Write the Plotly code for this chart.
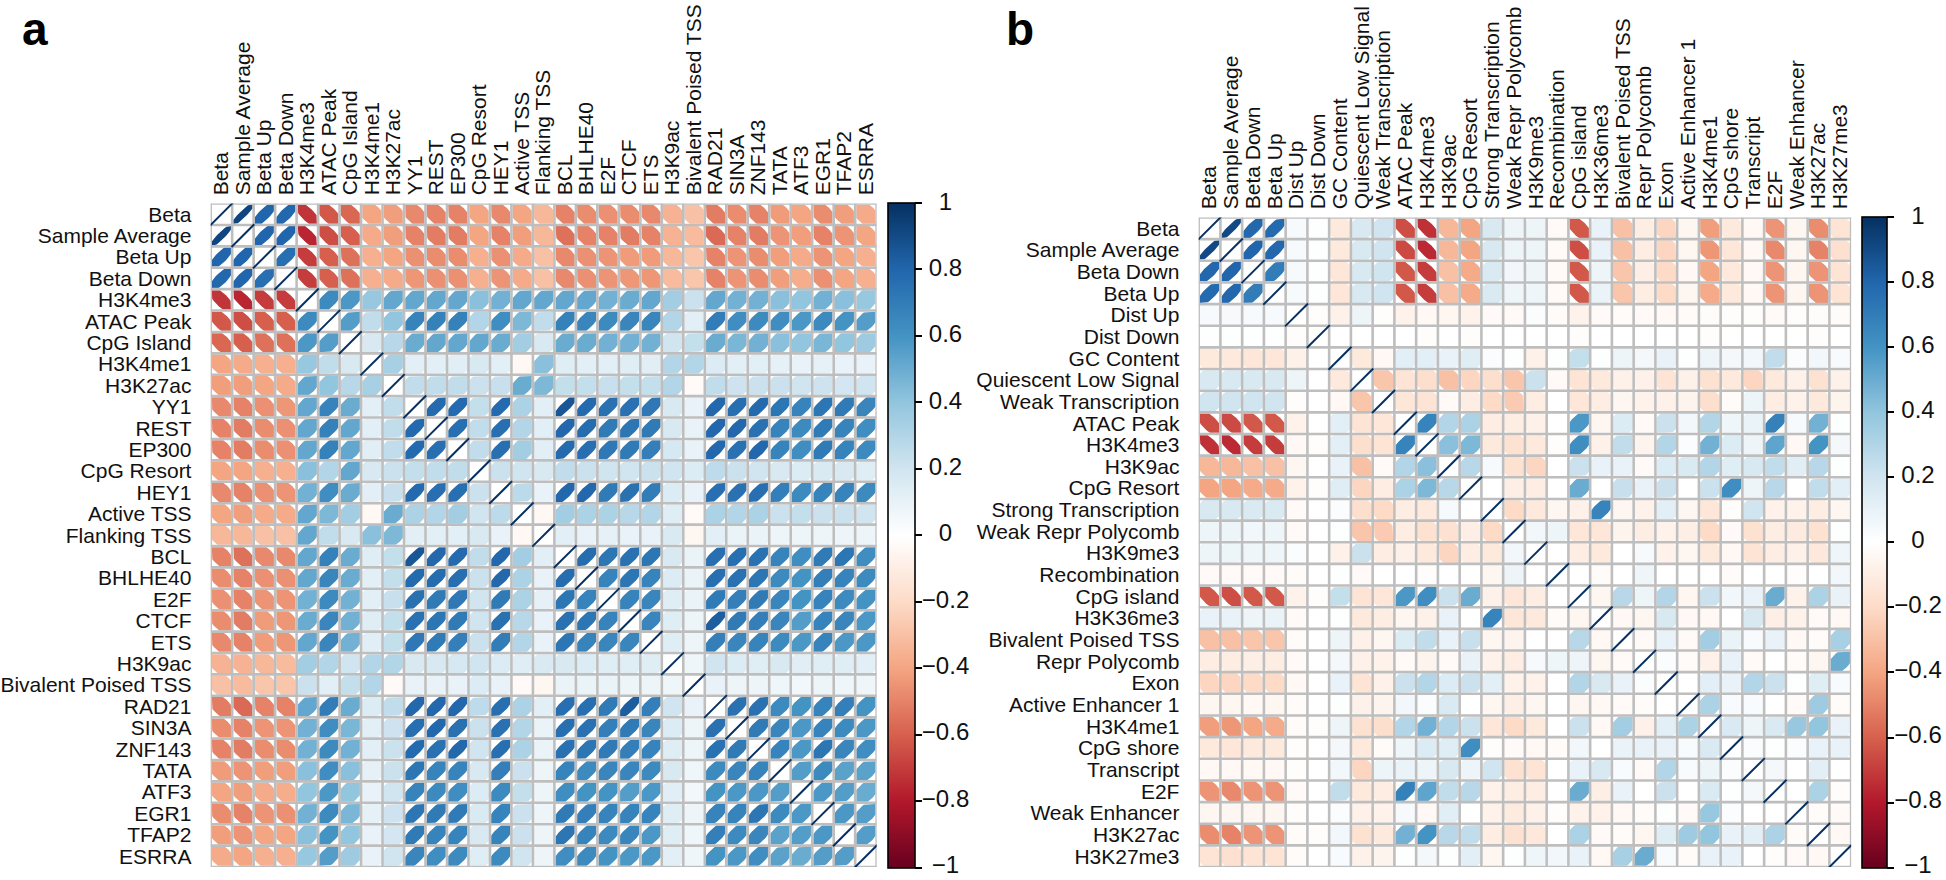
import numpy as np
import plotly.graph_objects as go

labels_a = ["Beta","Sample Average","Beta Up","Beta Down","H3K4me3","ATAC Peak","CpG Island","H3K4me1","H3K27ac","YY1","REST","EP300","CpG Resort","HEY1","Active TSS","Flanking TSS","BCL","BHLHE40","E2F","CTCF","ETS","H3K9ac","Bivalent Poised TSS","RAD21","SIN3A","ZNF143","TATA","ATF3","EGR1","TFAP2","ESRRA"]
labels_b = ["Beta","Sample Average","Beta Down","Beta Up","Dist Up","Dist Down","GC Content","Quiescent Low Signal","Weak Transcription","ATAC Peak","H3K4me3","H3K9ac","CpG Resort","Strong Transcription","Weak Repr Polycomb","H3K9me3","Recombination","CpG island","H3K36me3","Bivalent Poised TSS","Repr Polycomb","Exon","Active Enhancer 1","H3K4me1","CpG shore","Transcript","E2F","Weak Enhancer","H3K27ac","H3K27me3"]

# Panel a: values right of the diagonal, one list per row
a_beta = [.92,.80,.79,-.72,-.62,-.58,-.40,-.42,-.48,-.50,-.50,-.40,-.48,-.40,-.33,-.50,-.47,-.46,-.47,-.48,-.35,-.30,-.52,-.47,-.50,-.43,-.40,-.47,-.42,-.38]
a_sample = [.80,.80,-.76,-.65,-.60,-.38,-.42,-.50,-.52,-.52,-.40,-.50,-.42,-.33,-.55,-.50,-.50,-.52,-.50,-.35,-.32,-.57,-.50,-.52,-.45,-.42,-.50,-.45,-.40]
a_betaup = [.76,-.70,-.60,-.55,-.36,-.40,-.46,-.47,-.47,-.36,-.46,-.38,-.30,-.48,-.46,-.45,-.43,-.43,-.33,-.28,-.50,-.45,-.47,-.42,-.38,-.45,-.40,-.36]
a_betadown = [-.70,-.60,-.55,-.36,-.38,-.44,-.46,-.46,-.36,-.45,-.38,-.30,-.48,-.46,-.45,-.44,-.44,-.32,-.28,-.50,-.45,-.47,-.42,-.37,-.46,-.40,-.36]
a_h3k4me3 = [.64,.58,.38,.52,.52,.52,.52,.42,.48,.52,.52,.52,.52,.48,.50,.52,.35,.22,.52,.48,.48,.42,.40,.48,.42,.38]
a_atac = [.56,.25,.40,.67,.68,.68,.30,.62,.45,.25,.68,.66,.64,.66,.66,.30,.12,.70,.62,.64,.62,.58,.64,.60,.56]
a_cpgisland = [.17,.28,.50,.52,.52,.52,.50,.35,.17,.50,.50,.48,.48,.48,.20,.24,.50,.46,.48,.42,.40,.46,.40,.36]
a_h3k4me1 = [.33,.12,.12,.13,.17,.12,-.04,.42,.14,.12,.12,.14,.13,.30,.30,.15,.12,.12,.11,.10,.11,.10,.10]
a_h3k27ac = [.25,.25,.25,.22,.23,.50,.45,.24,.24,.23,.24,.24,.30,-.03,.25,.21,.22,.22,.20,.21,.19,.20]
a_yy1 = [.78,.78,.24,.78,.32,.12,.86,.78,.75,.75,.72,.17,.10,.79,.76,.78,.73,.67,.73,.71,.66]
a_rest = [.76,.25,.76,.30,.12,.79,.77,.71,.73,.71,.17,.10,.79,.79,.75,.67,.64,.71,.67,.62]
a_ep300 = [.25,.76,.35,.12,.78,.76,.72,.71,.69,.18,.10,.79,.75,.79,.67,.62,.71,.67,.64]
a_cpgresort = [.22,.20,.17,.25,.22,.20,.20,.22,.20,.15,.26,.22,.20,.17,.15,.16,.17,.14]
a_hey1 = [.27,.10,.79,.79,.71,.75,.70,.15,.10,.76,.75,.76,.69,.64,.67,.67,.64]
a_activetss = [-.04,.35,.32,.32,.28,.30,.14,-.03,.32,.30,.32,.22,.24,.22,.22,.20]
a_flanking = [.12,.10,.11,.10,.10,.16,-.05,.12,.09,.09,.08,.08,.08,.08,.08]
a_bcl = [.77,.73,.75,.73,.17,.09,.76,.76,.75,.67,.62,.71,.73,.62]
a_bhlhe40 = [.67,.73,.67,.15,.09,.76,.75,.73,.64,.60,.69,.67,.64]
a_e2f = [.67,.66,.14,.09,.71,.69,.71,.66,.60,.67,.64,.60]
a_ctcf = [.66,.14,.08,.83,.71,.69,.66,.56,.67,.66,.58]
a_ets = [.14,.08,.69,.66,.67,.64,.58,.67,.58,.58]
a_h3k9ac = [.07,.20,.15,.14,.17,.13,.14,.14,.12]
a_bivalent = [.10,.08,.08,.07,.06,.08,.07,.07]
a_rad21 = [.75,.75,.64,.60,.67,.69,.60]
a_sin3a = [.71,.66,.58,.67,.64,.58]
a_znf143 = [.67,.58,.73,.66,.62]
a_tata = [.56,.64,.54,.54]
a_atf3 = [.58,.56,.50]
a_egr1 = [.58,.56]
a_tfap2 = [.56]
rows_a = [a_beta,a_sample,a_betaup,a_betadown,a_h3k4me3,a_atac,a_cpgisland,a_h3k4me1,a_h3k27ac,a_yy1,a_rest,a_ep300,a_cpgresort,a_hey1,a_activetss,a_flanking,a_bcl,a_bhlhe40,a_e2f,a_ctcf,a_ets,a_h3k9ac,a_bivalent,a_rad21,a_sin3a,a_znf143,a_tata,a_atf3,a_egr1,a_tfap2]

# Panel b: values right of the diagonal, one list per row
b_beta = [.91,.79,.78,.04,.01,-.12,.17,.20,-.65,-.73,-.33,-.40,.17,.08,.08,-.03,-.62,.10,-.30,-.10,-.22,-.05,-.42,-.12,-.04,-.45,-.05,-.47,-.15]
b_sample = [.80,.79,.04,.01,-.12,.17,.20,-.66,-.75,-.33,-.40,.17,.08,.08,-.03,-.65,.10,-.30,-.10,-.22,-.05,-.44,-.14,-.04,-.48,-.05,-.50,-.17]
b_betadown = [.70,.04,.01,-.14,.17,.20,-.62,-.70,-.30,-.38,.16,.06,.07,-.03,-.62,.08,-.28,-.09,-.20,-.04,-.40,-.12,-.04,-.45,-.05,-.45,-.15]
b_betaup = [.04,.01,-.14,.17,.20,-.62,-.70,-.30,-.38,.16,.07,.07,-.03,-.62,.09,-.28,-.10,-.20,-.05,-.38,-.12,-.04,-.45,-.05,-.45,-.15]
b_distup = [-.01,-.08,.08,-.01,-.07,-.04,-.05,-.07,-.03,-.03,.02,-.02,-.07,-.03,-.02,-.03,-.04,-.02,-.02,-.01,-.01,-.03,-.01,-.02,-.02]
b_distdown = [.00,.00,.00,.00,-.01,.00,-.01,.00,.00,.00,.00,-.01,.00,.00,.00,.00,.00,-.01,.00,.00,.00,.00,-.01,.00]
b_gc = [-.12,-.04,.12,.12,.10,.14,.02,.01,-.08,.01,.24,.01,.08,.05,.10,.01,.08,.05,.06,.25,.02,.06,.03]
b_quiescent = [-.28,-.15,-.18,-.30,-.22,-.18,-.28,.22,-.03,-.15,-.12,-.08,-.08,-.15,-.08,-.16,-.12,-.22,-.12,-.08,-.16,-.08]
b_weaktrans = [-.14,-.15,-.03,-.10,-.20,-.26,-.10,.00,-.14,-.10,-.05,-.07,-.08,-.06,-.18,-.02,.08,-.10,-.07,-.12,-.06]
b_atac = [.67,.30,.32,-.10,-.10,-.08,.00,.58,-.05,.15,-.03,.22,.06,.30,.07,.09,.68,.04,.48,.01]
b_h3k4me3 = [.42,.45,-.12,-.16,-.12,-.01,.62,-.08,.25,-.06,.30,.02,.48,.15,.08,.53,-.04,.60,.05]
b_h3k9ac = [.28,.04,-.16,-.22,.00,.22,.10,.10,-.03,.15,.16,.30,.14,.17,.25,.13,.28,.01]
b_cpgresort = [.00,-.09,-.10,.00,.50,.00,.23,.10,.22,.00,.22,.62,.08,.28,.00,.25,.12]
b_strongtrans = [-.20,-.12,-.05,-.08,.67,-.05,-.07,.12,-.05,-.14,-.01,.20,-.07,-.07,-.10,-.05]
b_weakrepr = [.06,.08,-.14,-.14,-.06,-.10,-.07,-.09,-.20,-.03,-.16,-.10,-.11,-.16,.01]
b_h3k9me3 = [.00,-.10,-.12,.00,.04,-.07,-.05,-.12,-.04,-.15,-.10,-.08,-.13,.07]
b_recomb = [.00,-.02,.00,.07,.00,.00,.00,-.02,.00,.00,-.01,.00,.06]
b_cpgisland = [-.05,.28,.08,.30,-.05,.22,.06,.10,.50,-.07,.32,.10]
b_h3k36me3 = [-.04,-.05,.17,-.04,-.04,.00,.17,-.09,-.07,-.03,-.04]
b_bivalent = [-.03,.10,-.03,.35,.09,.03,.10,-.04,-.02,.33]
b_repr = [.02,-.02,-.08,.10,-.03,.00,-.02,-.05,.50]
b_exon = [.00,.12,.10,.30,.22,.01,.14,.03]
b_activeenh = [.32,.03,.03,.00,-.03,.36,-.02]
b_h3k4me1 = [.16,.08,.16,.38,.40,.10]
b_cpgshore = [.02,.01,.02,.10,.10]
b_transcript = [.05,.00,.12,.00]
b_e2f = [.00,.32,-.01]
b_weakenh = [-.02,-.03]
b_h3k27ac = [-.04]
rows_b = [b_beta,b_sample,b_betadown,b_betaup,b_distup,b_distdown,b_gc,b_quiescent,b_weaktrans,b_atac,b_h3k4me3,b_h3k9ac,b_cpgresort,b_strongtrans,b_weakrepr,b_h3k9me3,b_recomb,b_cpgisland,b_h3k36me3,b_bivalent,b_repr,b_exon,b_activeenh,b_h3k4me1,b_cpgshore,b_transcript,b_e2f,b_weakenh,b_h3k27ac]

cbar_ticks = [-1,-.8,-.6,-.4,-.2,0,.2,.4,.6,.8,1]
cbar_text = ["\u22121","\u22120.8","\u22120.6","\u22120.4","\u22120.2","0","0.2","0.4","0.6","0.8","1"]
palette = ["#67001F","#B2182B","#D6604D","#F4A582","#FDDBC7","#FFFFFF","#D1E5F0","#92C5DE","#4393C3","#2166AC","#053061"]

W, H = 1946, 880
FONT = "Liberation Sans"
GRID = "#BEBEBE"
ELL_R, CLIP, DIAG = 0.57, 0.445, 0.53
scale = [[i / 10, c] for i, c in enumerate(palette)]
rgb = np.array([[int(c[i:i + 2], 16) for i in (1, 3, 5)] for c in palette], float)


def colour(v):
    p = (v + 1) * 5
    k = min(int(p), 9)
    c = rgb[k] + (rgb[k + 1] - rgb[k]) * (p - k)
    return "rgb(%d,%d,%d)" % tuple(np.round(c))


def matrix(rows):
    n = len(rows) + 1
    m = np.eye(n)
    for i, r in enumerate(rows):
        assert len(r) == n - 1 - i, i
        m[i, i + 1:] = r
        m[i + 1:, i] = r
    return m


def clip_box(pts, h):
    for axis, sign in ((0, 1), (0, -1), (1, 1), (1, -1)):
        out = []
        for j in range(len(pts)):
            a, b = pts[j - 1], pts[j]
            ina, inb = sign * a[axis] <= h, sign * b[axis] <= h
            if ina != inb:
                t = (sign * h - a[axis]) / (b[axis] - a[axis])
                out.append((a[0] + (b[0] - a[0]) * t, a[1] + (b[1] - a[1]) * t))
            if inb:
                out.append(b)
        pts = out
    return pts


theta = np.linspace(0, 2 * np.pi, 40, endpoint=False)


def ellipse(r):
    d = np.arccos(r)
    ex = ELL_R * np.cos(theta + d / 2)
    ey = ELL_R * np.cos(theta - d / 2)
    return clip_box(list(zip(ex, ey)), CLIP)


fig = go.Figure()


def panel(idx, labels, rows, box, bar, text_box):
    xname = "x" + ("" if idx == 1 else str(idx))
    yname = "y" + ("" if idx == 1 else str(idx))
    left, right, top, bottom = box
    n = len(labels)
    m = matrix(rows)
    groups = {}
    for i in range(n):
        for j in range(n):
            if i != j:
                groups.setdefault(round(float(m[i, j]), 2), []).append((i, j))
    for v, cells in sorted(groups.items()):
        shape = ellipse(v)
        xs, ys = [], []
        for i, j in cells:
            xs += [j + 1 + p[0] for p in shape] + [j + 1 + shape[0][0], None]
            ys += [i + 1 - p[1] for p in shape] + [i + 1 - shape[0][1], None]
        fig.add_trace(go.Scatter(x=xs, y=ys, mode="lines", line=dict(width=0), fill="toself",
                                 fillcolor=colour(v), hoverinfo="skip", showlegend=False,
                                 xaxis=xname, yaxis=yname))
    gx, gy = [], []
    for k in range(n + 1):
        gx += [k + .5, k + .5, None, .5, n + .5, None]
        gy += [.5, n + .5, None, k + .5, k + .5, None]
    fig.add_trace(go.Scatter(x=gx, y=gy, mode="lines", line=dict(color=GRID, width=2.6),
                             hoverinfo="skip", showlegend=False, xaxis=xname, yaxis=yname))
    dx, dy = [], []
    for k in range(1, n + 1):
        dx += [k - DIAG, k + DIAG, None]
        dy += [k + DIAG, k - DIAG, None]
    fig.add_trace(go.Scatter(x=dx, y=dy, mode="lines", line=dict(color=palette[-1], width=2),
                             hoverinfo="skip", showlegend=False, xaxis=xname, yaxis=yname))
    # carries the colour bar and the hover values
    px, py, pz, pt = [], [], [], []
    for i in range(n):
        for j in range(n):
            px.append(j + 1); py.append(i + 1); pz.append(m[i, j])
            pt.append("%s / %s: %.2f" % (labels[i], labels[j], m[i, j]))
    fig.add_trace(go.Scatter(
        x=px, y=py, mode="markers", text=pt, hoverinfo="text", showlegend=False,
        xaxis=xname, yaxis=yname,
        marker=dict(size=14, opacity=0, color=pz, colorscale=scale, cmin=-1, cmax=1, showscale=True,
                    colorbar=dict(x=bar[0] / W, xanchor="left", xpad=0, ypad=0,
                                  y=1 - (top + bottom) / 2 / H, yanchor="middle",
                                  lenmode="pixels", len=bottom - top, thicknessmode="pixels",
                                  thickness=bar[1] - bar[0], outlinecolor="black", outlinewidth=1.6,
                                  tickmode="array", tickvals=cbar_ticks, ticktext=[""] * len(cbar_ticks),
                                  ticks="outside", ticklen=7, tickwidth=2, tickcolor="black",
                                  showticklabels=False))))
    common = dict(showgrid=False, zeroline=False, showline=False, ticks="outside",
                  tickcolor="rgba(0,0,0,0)", tickfont=dict(family=FONT, size=21, color="#111111"),
                  tickmode="array", tickvals=list(range(1, n + 1)), ticktext=labels)
    fig.update_layout({
        ("xaxis" if idx == 1 else "xaxis%d" % idx): dict(
            common, domain=[left / W, right / W], range=[.5, n + .5], side="top", tickangle=-90,
            ticklen=3, anchor=yname),
        ("yaxis" if idx == 1 else "yaxis%d" % idx): dict(
            common, domain=[1 - bottom / H, 1 - top / H], range=[n + .5, .5], ticklen=14, anchor=xname),
    })
    # colour bar tick labels, centred as in the reference
    tx = "x%d" % (idx + 2)
    ty = "y%d" % (idx + 2)
    fig.add_trace(go.Scatter(x=[.5] * len(cbar_ticks), y=cbar_ticks, text=cbar_text, mode="text",
                             textposition="middle center", hoverinfo="skip", showlegend=False,
                             textfont=dict(family=FONT, size=24, color="#111111"),
                             cliponaxis=False, xaxis=tx, yaxis=ty))
    hidden = dict(visible=False, showgrid=False, zeroline=False)
    fig.update_layout({
        "xaxis%d" % (idx + 2): dict(hidden, domain=[text_box[0] / W, text_box[1] / W], range=[0, 1], anchor=ty),
        "yaxis%d" % (idx + 2): dict(hidden, domain=[1 - bottom / H, 1 - top / H], range=[-1, 1], anchor=tx),
    })


panel(1, labels_a, rows_a, (208, 875, 203, 868), (886, 913), (924, 964))
panel(2, labels_b, rows_b, (1197.5, 1851, 217, 868), (1862, 1887), (1898, 1938))

for t, x in (("a", 17), ("b", 1003)):
    fig.add_annotation(text="<b>%s</b>" % t, xref="paper", yref="paper", x=x / W, y=1 - 56 / H,
                       xanchor="left", yanchor="bottom", showarrow=False,
                       font=dict(family=FONT, size=46, color="black"))

fig.update_layout(width=W, height=H, margin=dict(l=0, r=0, t=0, b=0), autosize=False,
                  paper_bgcolor="white", plot_bgcolor="white", showlegend=False)

fig.write_html("out.html", config=dict(displayModeBar=False),
               post_script="document.body.style.margin='0';document.documentElement.style.overflow='hidden';")
